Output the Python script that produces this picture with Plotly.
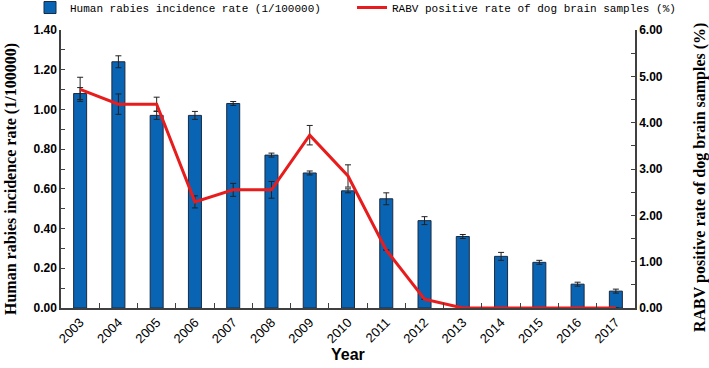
import plotly.graph_objects as go

years = [str(y) for y in range(2003, 2018)]
incidence = [1.08, 1.24, 0.97, 0.97, 1.03, 0.77, 0.68, 0.59, 0.55, 0.44, 0.36, 0.26, 0.23, 0.12, 0.085]
incidence_err = [0.03, 0.03, 0.02, 0.02, 0.01, 0.01, 0.01, 0.01, 0.03, 0.02, 0.01, 0.02, 0.01, 0.01, 0.01]
rabv = [4.72, 4.40, 4.40, 2.29, 2.55, 2.55, 3.73, 2.85, 1.25, 0.19, 0.0, 0.0, 0.0, 0.0, 0.0]
rabv_err = [0.26, 0.22, 0.15, 0.13, 0.14, 0.18, 0.21, 0.24, 0.0, 0.0, 0.0, 0.0, 0.0, 0.0, 0.0]

legfont = dict(family="Liberation Mono, DejaVu Sans Mono, monospace", size=11, color="black")

fig = go.Figure()
fig.add_trace(go.Bar(
    x=years, y=incidence, name="Human rabies incidence rate (1/100000)", legend="legend",
    marker=dict(color="#0a64b4", line=dict(color="#1a2a40", width=1)),
    error_y=dict(type="data", array=incidence_err, color="#222222", thickness=1, width=3),
))
fig.add_trace(go.Scatter(
    x=years, y=rabv, name="RABV positive rate of dog brain samples (%)", yaxis="y2", legend="legend2",
    mode="lines", line=dict(color="#e81c1c", width=3),
    error_y=dict(type="data", array=rabv_err, color="#222222", thickness=1, width=3),
))

tickfont = dict(family="Liberation Sans, Arial", size=12, color="black", weight="bold")
titlefont = dict(family="Liberation Serif, Times New Roman", size=16, color="black", weight="bold")
fig.update_layout(
    width=709, height=368,
    margin=dict(l=61, r=74, t=30, b=60, autoexpand=False),
    plot_bgcolor="white", paper_bgcolor="white",
    bargap=0.66,
    showlegend=True,
    legend=dict(orientation="h", x=-0.054, xanchor="left", y=1.133, yanchor="top",
                font=legfont, bgcolor="rgba(0,0,0,0)", itemwidth=30),
    legend2=dict(orientation="h", x=0.507, xanchor="left", y=1.133, yanchor="top",
                 font=legfont, bgcolor="rgba(0,0,0,0)", itemwidth=30),
    xaxis=dict(type="category", range=[-0.5, 14.5], showline=True, linecolor="#404040", linewidth=1.5,
               ticks="inside", ticklen=5, tickcolor="#404040", tickson="boundaries",
               tickangle=-45, tickfont=dict(family="Liberation Sans, Arial", size=13, color="black"),
               showgrid=False, automargin=False),
    yaxis=dict(range=[0, 1.4], dtick=0.2, tickformat=".2f", showline=True, linecolor="#404040", linewidth=1.5,
               ticks="inside", ticklen=4, tickcolor="#404040",
               minor=dict(dtick=0.1, ticks="inside", ticklen=4, tickcolor="#404040"),
               tickfont=tickfont, showgrid=False, zeroline=False, automargin=False),
    yaxis2=dict(range=[0, 6], dtick=1, tickformat=".2f", overlaying="y", side="right", showline=True,
                linecolor="#404040", linewidth=1.5, ticks="inside", ticklen=4, tickcolor="#404040",
                minor=dict(dtick=0.5, ticks="inside", ticklen=4, tickcolor="#404040"),
                tickfont=tickfont, showgrid=False, zeroline=False, automargin=False),
    annotations=[
        dict(text="Year", xref="paper", yref="paper", x=0.5, y=-0.169, xanchor="center", yanchor="middle",
             showarrow=False, font=dict(family="Liberation Sans, Arial", size=16, color="black", weight="bold")),
        dict(text="Human rabies incidence rate (1/100000)", xref="paper", yref="paper", x=-0.0871, y=0.464,
             xanchor="center", yanchor="middle", textangle=-90, showarrow=False, font=titlefont),
        dict(text="RABV positive rate of dog brain samples (%)", xref="paper", yref="paper", x=1.1132, y=0.471,
             xanchor="center", yanchor="middle", textangle=-90, showarrow=False, font=titlefont),
    ],
)
fig.write_html("out.html", config={"displayModeBar": False},
               post_script="document.body.style.margin='0';document.body.style.overflow='hidden';")
